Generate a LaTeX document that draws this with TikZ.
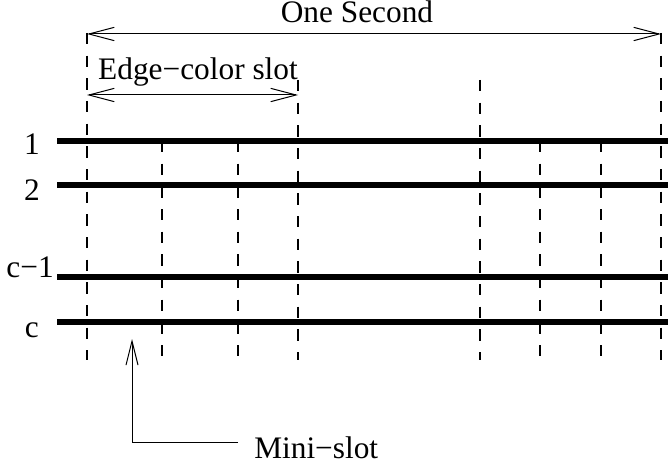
\documentclass[tikz,border=0pt]{standalone}
\usepackage{fontspec}
\setmainfont{Liberation Serif}
\usetikzlibrary{arrows.meta}

\begin{document}
\begin{tikzpicture}[x=0.75pt,y=0.75pt,yscale=-1,xscale=1,
  channel/.style={line width=3.9pt},
  slotline/.style={line width=0.9pt, dash pattern=on 8.5pt off 8.5pt},
  span/.style={line width=0.75pt, {Straight Barb[length=19pt,width=10pt]}-{Straight Barb[length=19pt,width=10pt]}},
  pointer/.style={line width=0.75pt, -{Straight Barb[length=18pt,width=9pt]}},
  lbl/.style={inner sep=0pt, font=\fontsize{23.5}{28}\selectfont}]
\useasboundingbox (0,0) rectangle (668,467);

%Coordinates of the channels
\coordinate (ch1w) at (57,141);   \coordinate (ch1e) at (668,141);
\coordinate (ch2w) at (57,185);   \coordinate (ch2e) at (668,185);
\coordinate (chc1w) at (57,277);  \coordinate (chc1e) at (668,277);
\coordinate (chcw) at (57,322);   \coordinate (chce) at (668,322);

%Thick Lines (channels)
\draw [channel] (ch1w) -- (ch1e) ;
\draw [channel] (ch2w) -- (ch2e) ;
\draw [channel] (chc1w) -- (chc1e) ;
\draw [channel] (chcw) -- (chce) ;

%Dashed Lines (slot borders)
\coordinate (sectop) at (87,33);   \coordinate (secbot) at (87,360);
\coordinate (secendtop) at (661,33); \coordinate (secendbot) at (661,360);
\coordinate (slottop) at (298,80);  \coordinate (slotbot) at (298,360);
\coordinate (slot2top) at (480,80); \coordinate (slot2bot) at (480,360);
\draw [slotline] (sectop) -- (secbot) ;
\draw [slotline] (secendtop) -- (secendbot) ;
\draw [slotline] (slottop) -- (slotbot) ;
\draw [slotline] (slot2top) -- (slot2bot) ;
%Dashed Lines (mini-slot borders)
\foreach \mx in {162,238,540,601}
  \draw [slotline] (\mx,141) -- (\mx,360) ;

%Span arrows
\coordinate (secl) at (87,34);   \coordinate (secr) at (661,34);
\coordinate (slotl) at (87,95);  \coordinate (slotr) at (298,95);
\draw [span] (secl) -- (secr) ;
\draw [span] (slotl) -- (slotr) ;

% Text Node
\node [lbl, anchor=base] (second) at (357,22.5) {One Second};
% Text Node
\node [lbl, anchor=base] (edgeslot) at (198,80) {Edge−color slot};
% Text Node
\node [lbl, anchor=base east] (row1) at (40,155) {1};
\node [lbl, anchor=base east] (row2) at (40,200) {2};
\node [lbl, anchor=base east] (rowc1) at (54,277) {c−1};
\node [lbl, anchor=base east] (rowc) at (39,337) {c};
% Text Node
\node [lbl, anchor=base west] (mini) at (254,458) {Mini−slot};

%Mini-slot pointer
\coordinate (minifoot) at (238,442);
\coordinate (minitip) at (132,339);
\draw [pointer] (minifoot) -| (minitip) ;

\end{tikzpicture}
\end{document}
